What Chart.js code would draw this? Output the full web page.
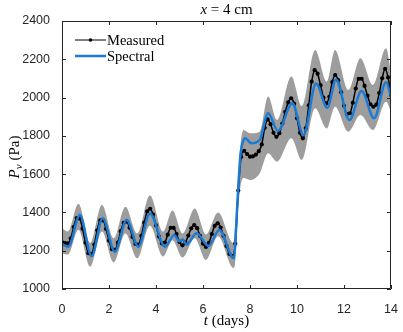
<!DOCTYPE html>
<html>
<head>
<meta charset="utf-8">
<script src="https://cdn.jsdelivr.net/npm/chart.js@4.4.0/dist/chart.umd.min.js"></script>
<style>
html, body { margin: 0; padding: 0; background: #fff; }
#wrap { width: 403px; height: 332px; }
</style>
</head>
<body>
<div id="wrap"><canvas id="chart" width="403" height="332"></canvas></div>
<script>
// measured vapour pressure, one sample every 0.125 day
var measuredStep = 0.125;
var measured = [
    1245, 1240, 1238, 1265, 1324, 1371, 1368, 1315,
    1242, 1187, 1182, 1232, 1307, 1359, 1358, 1314,
    1253, 1208, 1204, 1242, 1302, 1346, 1352, 1320,
    1272, 1235, 1232, 1277, 1347, 1405, 1419, 1389,
    1332, 1274, 1238, 1243, 1284, 1320, 1319, 1287,
    1246, 1228, 1242, 1279, 1317, 1334, 1318, 1277,
    1237, 1220, 1241, 1287, 1330, 1343, 1321, 1277,
    1225, 1183, 1172, 1237, 1514, 1690, 1722, 1705,
    1691, 1693, 1702, 1720, 1755, 1842, 1886, 1861,
    1816, 1795, 1814, 1864, 1925, 1975, 1996, 1968,
    1892, 1816, 1787, 1841, 1960, 2083, 2143, 2125,
    2065, 2000, 1970, 2004, 2081, 2118, 2091, 2028,
    1957, 1914, 1918, 1973, 2047, 2098, 2098, 2061,
    2010, 1965, 1952, 1963, 2024, 2101, 2150, 2105,
    2013
];

// spectral model
var spectralT = [0, 0.27, 0.76, 1.26, 1.73, 2.25, 2.75, 3.25, 3.74, 4.39, 4.77, 5.0, 5.14, 5.3, 5.42, 5.73,
    6.23, 6.69, 7.32, 7.38, 7.44, 7.51, 7.6, 7.7, 7.8, 8.06, 8.41, 8.77, 9.19, 9.8, 10.28, 10.81,
    11.29, 11.66, 12.23, 12.75, 13.28, 13.79, 14];
var spectral = [1235, 1221, 1387, 1172, 1369, 1195, 1360, 1221, 1395, 1221, 1282, 1250, 1258, 1232, 1246, 1291,
    1225, 1308, 1160, 1250, 1395, 1552, 1709, 1769, 1787, 1761, 1778, 1918, 1826, 1970, 1804, 2074,
    1947, 2095, 1883, 2034, 1892, 2080, 2005];

// uncertainty band of the measurements
var bandT = [0, 0.25, 0.7, 1.2, 1.7, 2.2, 2.7, 3.2, 3.74, 4.3, 4.7, 5.13, 5.65, 6.12, 6.64, 7.29,
    7.36, 7.44, 7.52, 7.6, 7.73, 8.0, 8.41, 8.77, 9.15, 9.76, 10.2, 10.77, 11.26, 11.62, 12.18, 12.7,
    13.23, 13.79, 14];
var bandUpper = [1317, 1300, 1445, 1240, 1440, 1265, 1430, 1290, 1490, 1300, 1410, 1290, 1420, 1285, 1400, 1240,
    1320, 1470, 1620, 1760, 1830, 1813, 1822, 2005, 1883, 2110, 1955, 2248, 2083, 2248, 2039, 2205,
    2066, 2257, 2135];
var bandLower = [1186, 1180, 1310, 1116, 1300, 1139, 1290, 1160, 1330, 1170, 1255, 1165, 1265, 1152, 1275, 1110,
    1125, 1290, 1450, 1540, 1580, 1570, 1604, 1709, 1665, 1787, 1674, 1944, 1839, 1952, 1822, 1909,
    1830, 1978, 1926];

var xTicks = [0, 2, 4, 6, 8, 10, 12, 14];
var yTicks = [1000, 1200, 1400, 1600, 1800, 2000, 2200, 2400];

var frameColor = '#262626';
var spectralColor = '#1b7bd4';
var bandColor = '#9d9d9d';
var serif = '"Liberation Serif", "DejaVu Serif", serif';
var sans = '"Liberation Sans", Arial, sans-serif';

function points(ts, vs) {
    return vs.map(function(v, i) { return { x: ts[i], y: v }; });
}

var measuredPts = measured.map(function(v, i) { return { x: i * measuredStep, y: v }; });

// draw a run of text pieces (different fonts) centred on x
function drawParts(ctx, parts, x, y) {
    var total = 0;
    parts.forEach(function(p) {
        ctx.font = p.font;
        p.w = ctx.measureText(p.text).width;
        total += p.w;
    });
    var cx = x - total / 2;
    parts.forEach(function(p) {
        ctx.font = p.font;
        ctx.fillText(p.text, cx, y + (p.dy || 0));
        cx += p.w;
    });
}

var matlabFrame = {
    id: 'matlabFrame',
    afterDraw: function(chart) {
        var ctx = chart.ctx;
        var a = chart.chartArea;
        var xs = chart.scales.x, ys = chart.scales.y;
        var tl = 4;
        ctx.save();
        ctx.strokeStyle = frameColor;
        ctx.lineWidth = 1;
        ctx.beginPath();
        ctx.rect(a.left + 0.5, a.top + 0.5, a.right - a.left - 1, a.bottom - a.top - 1);
        xTicks.forEach(function(t) {
            var px = Math.round(xs.getPixelForValue(t)) + 0.5;
            ctx.moveTo(px, a.bottom); ctx.lineTo(px, a.bottom - tl);
            ctx.moveTo(px, a.top); ctx.lineTo(px, a.top + tl);
        });
        yTicks.forEach(function(v) {
            var py = Math.round(ys.getPixelForValue(v)) + 0.5;
            ctx.moveTo(a.left, py); ctx.lineTo(a.left + tl, py);
            ctx.moveTo(a.right, py); ctx.lineTo(a.right - tl, py);
        });
        ctx.stroke();

        ctx.fillStyle = '#000';
        ctx.textBaseline = 'alphabetic';
        ctx.textAlign = 'left';
        var mid = (a.left + a.right) / 2;

        // title
        drawParts(ctx, [
            { text: 'x', font: 'italic 15px ' + serif },
            { text: ' = 4 cm', font: '15px ' + serif }
        ], mid, 14);

        // x label
        drawParts(ctx, [
            { text: 't', font: 'italic 15px ' + serif },
            { text: ' (days)', font: '15px ' + serif }
        ], mid, 325);

        // y label
        ctx.save();
        ctx.translate(19, (a.top + a.bottom) / 2 + 2);
        ctx.rotate(-Math.PI / 2);
        drawParts(ctx, [
            { text: 'P', font: 'italic 15px ' + serif },
            { text: 'v', font: 'italic 11px ' + serif, dy: 3 },
            { text: ' (Pa)', font: '15px ' + serif }
        ], 0, 0);
        ctx.restore();

        // legend
        var lx = a.left + 13, ly1 = a.top + 19, ly2 = a.top + 35;
        ctx.strokeStyle = '#000';
        ctx.lineWidth = 1;
        ctx.beginPath();
        ctx.moveTo(lx, ly1); ctx.lineTo(lx + 31, ly1);
        ctx.stroke();
        ctx.fillStyle = '#000';
        ctx.beginPath();
        ctx.arc(lx + 15.5, ly1, 1.8, 0, Math.PI * 2);
        ctx.fill();
        ctx.strokeStyle = spectralColor;
        ctx.lineWidth = 2.5;
        ctx.beginPath();
        ctx.moveTo(lx, ly2); ctx.lineTo(lx + 31, ly2);
        ctx.stroke();
        ctx.font = '14.5px ' + serif;
        ctx.fillText('Measured', lx + 32, ly1 + 5);
        ctx.fillText('Spectral', lx + 32, ly2 + 5);
        ctx.restore();
    }
};

var chart = new Chart(document.getElementById('chart'), {
    type: 'line',
    data: {
        datasets: [{
            label: 'lower',
            data: points(bandT, bandLower),
            borderWidth: 0,
            pointRadius: 0,
            fill: false,
            cubicInterpolationMode: 'monotone',
            order: 3
        }, {
            label: 'upper',
            data: points(bandT, bandUpper),
            borderWidth: 0,
            pointRadius: 0,
            backgroundColor: bandColor,
            fill: '-1',
            cubicInterpolationMode: 'monotone',
            order: 2
        }, {
            label: 'Measured',
            data: measuredPts,
            borderColor: '#000',
            borderWidth: 1.5,
            pointRadius: 2.1,
            pointBackgroundColor: '#000',
            pointBorderWidth: 0,
            cubicInterpolationMode: 'monotone',
            order: 1
        }, {
            label: 'Spectral',
            data: points(spectralT, spectral),
            borderColor: spectralColor,
            borderWidth: 2.5,
            pointRadius: 0,
            cubicInterpolationMode: 'monotone',
            order: 0
        }]
    },
    options: {
        responsive: false,
        devicePixelRatio: 1,
        animation: false,
        layout: { padding: { left: 0, right: 12, top: 21, bottom: 0 } },
        plugins: {
            legend: { display: false },
            title: { display: false },
            tooltip: { enabled: false }
        },
        scales: {
            x: {
                type: 'linear',
                min: 0,
                max: 14,
                grid: { display: false },
                border: { display: false },
                afterFit: function(s) { s.height = 43; },
                afterBuildTicks: function(s) { s.ticks = xTicks.map(function(v) { return { value: v }; }); },
                ticks: {
                    padding: 5, color: frameColor, font: { family: sans, size: 12.5 }, maxRotation: 0,
                    callback: function(v) { return String(v); }
                }
            },
            y: {
                min: 1000,
                max: 2400,
                grid: { display: false },
                border: { display: false },
                afterFit: function(s) { s.width = 62; },
                afterBuildTicks: function(s) { s.ticks = yTicks.map(function(v) { return { value: v }; }); },
                ticks: {
                    padding: 4, color: frameColor, font: { family: sans, size: 12.5 },
                    callback: function(v) { return String(v); }
                }
            }
        }
    },
    plugins: [matlabFrame]
});
</script>
</body>
</html>
